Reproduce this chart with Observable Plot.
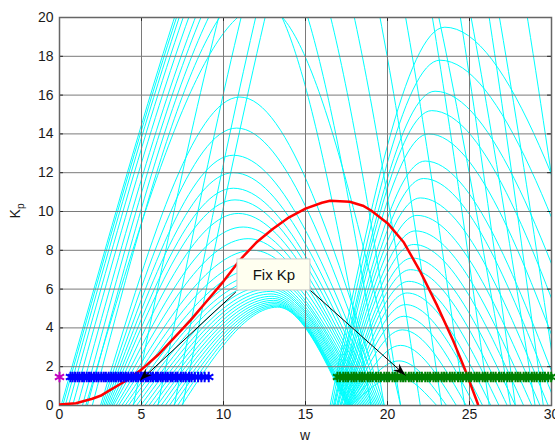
<!DOCTYPE html>
<html><head><meta charset="utf-8">
<script src="https://cdn.jsdelivr.net/npm/d3@7"></script>
<script src="https://cdn.jsdelivr.net/npm/@observablehq/plot@0.6"></script>
<style>body{margin:0;background:#fff}svg{display:block}</style>
</head><body><div id="chart"></div>
<script>
// ---- axes ----
const xTicks = [0, 5, 10, 15, 20, 25, 30];
const yTicks = [0, 2, 4, 6, 8, 10, 12, 14, 16, 18, 20];
const xLabel = "w";
const yLabelMain = "K", yLabelSub = "p";

// ---- cyan family: middle arches (left root, peak w, peak Kp, right root)
const midA = [7.45, 7.2, 6.95, 6.7, 6.45, 6.2, 5.95, 5.7, 5.45, 5.2, 4.95, 4.7, 4.45, 4.2,
              4.0, 3.8, 3.6, 3.45, 3.3, 3.2, 3.1, 3.0, 2.9, 2.8, 2.7, 2.6, 2.5, 1.6];
const midP = [13.3, 13.25, 13.2, 13.15, 13.1, 13.05, 13.0, 12.95, 12.9, 12.85, 12.8, 12.7, 12.6, 12.5,
              12.4, 12.2, 12.0, 11.8, 11.5, 11.2, 10.9, 10.7, 10.6, 10.6, 10.6, 10.8, 11.0, 12.4];
const midH = [5.07, 5.12, 5.18, 5.25, 5.33, 5.42, 5.52, 5.63, 5.75, 5.88, 6.02, 6.17, 6.35, 6.55,
              6.8, 7.1, 7.5, 8.0, 8.6, 9.2, 9.9, 10.6, 11.2, 12.0, 12.9, 14.3, 15.9, 20.6];
const midB = [17.5, 17.55, 17.6, 17.65, 17.7, 17.75, 17.8, 17.9, 18.0, 18.1, 18.2, 18.3, 18.4, 18.5,
              18.6, 18.7, 18.8, 18.9, 19.0, 19.1, 19.2, 19.3, 19.4, 19.5, 19.6, 19.7, 19.8, 20.8];

// ---- cyan family: right arches (left root, peak w, peak Kp, right root)
const rightD = [17.8, 17.75, 17.7, 17.65, 17.6, 17.55, 17.5, 17.4, 17.35, 17.3, 17.2, 17.15, 17.1, 17.0, 16.95, 16.9, 16.8, 16.75, 16.7, 16.6, 16.5];
const rightP = [20.6, 20.7, 20.8, 20.9, 21.0, 21.1, 21.2, 21.3, 21.4, 21.5, 21.6, 21.7, 21.8, 22.0, 22.2, 22.3, 22.5, 22.7, 22.9, 23.2, 23.5];
const rightH = [1.5, 2.3, 3.1, 3.9, 4.6, 5.2, 5.8, 6.4, 7.0, 7.6, 8.3, 9.0, 9.8, 10.7, 11.7, 12.6, 14.0, 15.2, 16.2, 17.8, 19.5];
const rightE = [23.0, 23.6, 24.2, 24.8, 25.3, 25.8, 26.3, 26.8, 27.3, 27.8, 28.3, 28.8, 29.3, 29.8, 30.3, 30.8, 31.6, 32.4, 33.2, 34.2, 35.0];

// ---- cyan family: tall single-hump curves
const fanA = [2.0, 1.7, 1.4, 1.1, 0.8, 0.55, 0.35, 0.2, 0.1, 4.5, 6.0, 7.0, 7.5];
const fanP = [12.0, 12.8, 13.6, 14.5, 15.5, 16.5, 17.6, 18.8, 20.0, 17.0, 19.0, 20.5, 22.0];
const fanH = [21.5, 23.5, 25.5, 27.5, 30, 32.5, 35, 37.5, 40, 34, 36, 38, 40];
const fanE = [19.0, 19.8, 20.8, 22.0, 23.3, 24.7, 26.2, 27.8, 29.5, 27.5, 29.0, 30.5, 32.0];

// ---- red curve ----
const redW  = [0, 1, 2, 2.5, 3, 4, 5, 6, 7, 8, 9, 10, 11, 12, 13, 14, 15, 16, 16.5, 17.7, 18.5, 19, 20, 21, 22, 23, 24, 24.75, 25.5, 25.6];
const redKp = [0.05, 0.12, 0.35, 0.5, 0.75, 1.25, 1.85, 2.6, 3.5, 4.4, 5.4, 6.4, 7.5, 8.4, 9.1, 9.7, 10.15, 10.45, 10.55, 10.5, 10.3, 10.05, 9.4, 8.4, 6.9, 5.2, 3.35, 1.8, 0.1, -0.2];

// ---- markers on the fixed Kp line ----
const fixKp = 1.47;
const blueW = [0.67, 0.8, 0.95, 1.1, 1.22, 1.38, 1.5, 1.66, 1.8, 1.93, 2.1, 2.25, 2.38, 2.55, 2.7, 2.83, 3.0, 3.15, 3.3, 3.44, 3.6, 3.75, 3.9, 4.05, 4.2, 4.37, 4.5, 4.66, 4.8, 4.97, 5.1, 5.27, 5.4, 5.56, 5.7, 5.88, 6.0, 6.17, 6.3, 6.47, 6.6, 6.78, 6.9, 7.08, 7.2, 7.4, 7.55, 7.7, 7.9, 8.05, 8.25, 8.45, 8.65, 8.85, 9.1];
const greenW = [16.95, 17.1, 17.3, 17.45, 17.6, 17.8, 17.95, 18.1, 18.3, 18.45, 18.6, 18.8, 18.95, 19.1, 19.3, 19.45, 19.6, 19.8, 19.95, 20.1, 20.3, 20.45, 20.6, 20.8, 20.95, 21.1, 21.3, 21.45, 21.6, 21.8, 21.95, 22.1, 22.3, 22.45, 22.6, 22.8, 22.95, 23.1, 23.3, 23.45, 23.6, 23.8, 23.95, 24.1, 24.3, 24.45, 24.6, 24.8, 24.95, 25.1, 25.3, 25.45, 25.6, 25.8, 25.95, 26.1, 26.3, 26.45, 26.6, 26.8, 26.95, 27.1, 27.3, 27.45, 27.6, 27.8, 27.95, 28.1, 28.3, 28.45, 28.6, 28.8, 28.95, 29.1, 29.3, 29.45, 29.6, 29.8, 29.98];
const magentaW = [0];

// ---- annotation ----
const noteText = ["Fix Kp"];
const noteBoxW = [10.85, 15.3];
const noteBoxKp = [5.93, 7.53];
const arrowFromW = [10.75, 15.3];
const arrowFromKp = [5.85, 5.93];
const arrowToW = [4.94, 21.1];
const arrowToKp = [1.29, 1.55];

// ---- build line table ----
const cyan = [];
const addArch = (pre, A, P, H, E) => A.forEach((a, i) => {
  [[a, 0], [P[i], H[i]], [E[i], 0]].forEach(([w, k]) => cyan.push({id: pre + i, w, k}));
});
addArch("m", midA, midP, midH, midB);
addArch("r", rightD, rightP, rightH, rightE);
addArch("f", fanA, fanP, fanH, fanE);
const red = redW.map((w, i) => ({w, k: redKp[i]}));
const arrows = arrowFromW.map((w, i) => ({x1: w, y1: arrowFromKp[i], x2: arrowToW[i], y2: arrowToKp[i]}));

const font = "'Liberation Sans', Arial, Helvetica, sans-serif";
const tickLenW = 0.24, tickLenK = 0.2;

const chart = Plot.plot({
  width: 555, height: 443,
  marginLeft: 59, marginRight: 4, marginTop: 17, marginBottom: 38,
  style: {fontFamily: font, fontSize: "14px", color: "#1a1a1a", background: "#fff"},
  x: {domain: [0, 30], label: null},
  y: {domain: [0, 20], label: null},
  marks: [
    Plot.line(cyan, {x: "w", y: "k", z: "id", curve: "monotone-x", stroke: "#00ffff", strokeWidth: 1, clip: true}),
    Plot.ruleX(xTicks.slice(1, -1), {stroke: "#7a7a7a", strokeWidth: 1}),
    Plot.ruleY(yTicks.slice(1, -1), {stroke: "#7a7a7a", strokeWidth: 1}),
    // small inward ticks on all four sides
    Plot.ruleY(yTicks, {x1: 0, x2: tickLenW, stroke: "#222", strokeWidth: 1}),
    Plot.ruleY(yTicks, {x1: 30 - tickLenW, x2: 30, stroke: "#222", strokeWidth: 1}),
    Plot.ruleX(xTicks, {y1: 0, y2: tickLenK, stroke: "#222", strokeWidth: 1}),
    Plot.ruleX(xTicks, {y1: 20 - tickLenK, y2: 20, stroke: "#222", strokeWidth: 1}),
    Plot.frame({stroke: "#666", strokeWidth: 1.5}),
    Plot.axisX(xTicks, {tickSize: 0, tickPadding: 4, fontSize: 14, fill: "#1a1a1a"}),
    Plot.axisY(yTicks, {tickSize: 0, tickPadding: 6, fontSize: 14, fill: "#1a1a1a"}),
    Plot.line(red, {x: "w", y: "k", stroke: "#ff0000", strokeWidth: 2.5, clip: true}),
    Plot.dot(blueW, {x: d => d, y: () => fixKp, symbol: "asterisk", r: 5, stroke: "#0000ff", strokeWidth: 2}),
    Plot.dot(greenW, {x: d => d, y: () => fixKp, symbol: "asterisk", r: 5, stroke: "#008000", strokeWidth: 2}),
    Plot.dot(magentaW, {x: d => d, y: () => fixKp, symbol: "asterisk", r: 5, stroke: "#c000c0", strokeWidth: 2}),
    Plot.link(arrows, {x1: "x1", y1: "y1", x2: "x2", y2: "y2", stroke: "#000", strokeWidth: 1}),
    Plot.rect([0], {x1: () => noteBoxW[0], x2: () => noteBoxW[1], y1: () => noteBoxKp[0], y2: () => noteBoxKp[1], fill: "#fffff0", stroke: "#c8c8c8", strokeWidth: 1}),
    Plot.text(noteText, {x: () => (noteBoxW[0] + noteBoxW[1]) / 2, y: () => (noteBoxKp[0] + noteBoxKp[1]) / 2, text: d => d, fontSize: 15, fill: "#111"})
  ]
});

// arrowheads & axis labels
const sx = chart.scale("x"), sy = chart.scale("y");
const ap = (s, v) => s.apply ? s.apply(v) : s.range[0] + (v - s.domain[0]) / (s.domain[1] - s.domain[0]) * (s.range[1] - s.range[0]);
const svg = d3.select(chart);
arrows.forEach(a => {
  const x0 = ap(sx, a.x1), y0 = ap(sy, a.y1), x1 = ap(sx, a.x2), y1 = ap(sy, a.y2);
  const t = Math.atan2(y1 - y0, x1 - x0);
  const L = 12, W = 4.5, N = 4;
  const pt = (u, v) => [x1 + u * Math.cos(t) - v * Math.sin(t), y1 + u * Math.sin(t) + v * Math.cos(t)];
  const pts = [pt(0, 0), pt(-L, W), pt(-L + N, 0), pt(-L, -W)];
  svg.append("path").attr("d", "M" + pts.map(p => p.join(",")).join("L") + "Z").attr("fill", "#000");
});
const [r0, r1] = [ap(sx, 0), ap(sx, 30)];
svg.append("text").attr("x", (r0 + r1) / 2).attr("y", 440).attr("text-anchor", "middle")
  .attr("font-size", 14).attr("font-family", font).attr("fill", "#1a1a1a").text(xLabel);
const yl = svg.append("text").attr("transform", `translate(20,${(ap(sy, 0) + ap(sy, 20)) / 2}) rotate(-90)`)
  .attr("text-anchor", "middle").attr("font-size", 14).attr("font-family", font).attr("fill", "#1a1a1a");
yl.append("tspan").text(yLabelMain);
yl.append("tspan").attr("font-size", 10).attr("dy", 4).text(yLabelSub);

document.getElementById("chart").appendChild(chart);
</script></body></html>
